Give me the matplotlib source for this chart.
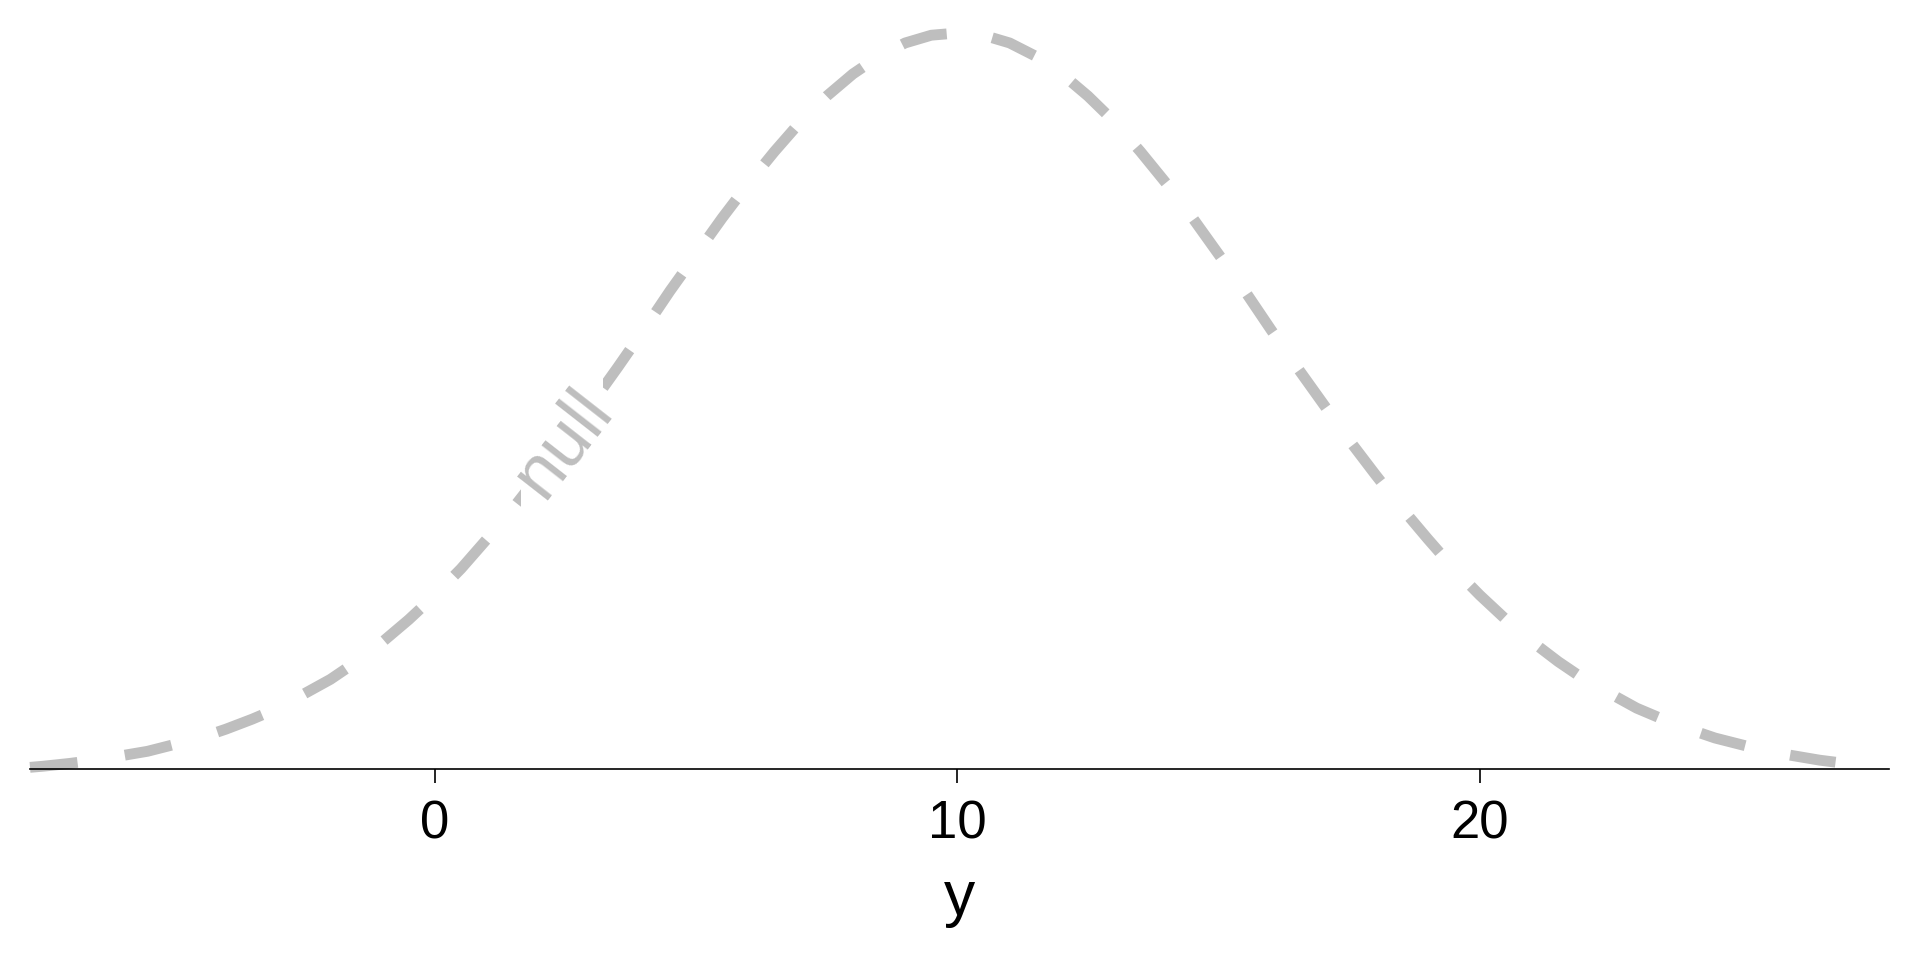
import numpy as np
import matplotlib
matplotlib.use('Agg')
import matplotlib.pyplot as plt
from matplotlib.patches import Rectangle, Polygon

plt.rcParams['font.family'] = ['Liberation Sans', 'DejaVu Sans']

# density curve (x = y-value, height = density)
curve_x = [-7.75, -7.5, -7, -6.5, -6, -5.5, -5, -4.5, -4, -3.5, -3, -2.5, -2,
           -1.5, -1, -0.5, 0, 0.5, 1, 1.5, 2, 2.5, 3, 3.5, 4, 4.5, 5, 5.5, 6,
           6.5, 7, 7.5, 8, 8.5, 9, 9.5, 10, 10.5, 11, 11.5, 12, 12.5, 13, 13.5,
           14, 14.5, 15, 15.5, 16, 16.5, 17, 17.5, 18, 18.5, 19, 19.5, 20,
           20.5, 21, 21.5, 22, 22.5, 23, 23.5, 24, 24.5, 25, 25.5, 26, 26.5, 27]
curve_density = [0.00015, 0.00025, 0.0005, 0.0008, 0.0012, 0.0016, 0.0022,
                 0.0028, 0.0036, 0.0045, 0.0055, 0.0068, 0.0081, 0.0097,
                 0.0115, 0.0135, 0.0157, 0.0181, 0.0208, 0.0236, 0.0266,
                 0.0297, 0.0330, 0.0363, 0.0397, 0.0432, 0.0465, 0.0498,
                 0.0529, 0.0558, 0.0585, 0.0608, 0.0628, 0.0644, 0.0656,
                 0.0663, 0.0665, 0.0663, 0.0656, 0.0644, 0.0628, 0.0608,
                 0.0585, 0.0558, 0.0529, 0.0498, 0.0465, 0.0432, 0.0397,
                 0.0363, 0.0330, 0.0297, 0.0266, 0.0236, 0.0208, 0.0181,
                 0.0157, 0.0135, 0.0115, 0.0097, 0.0081, 0.0068, 0.0055,
                 0.0045, 0.0036, 0.0028, 0.0022, 0.0016, 0.0012, 0.0008,
                 0.0005]
curve_label = 'null'
label_at = 2.45
x_ticks = [0, 10, 20]
x_title = 'y'

grey = '#BEBEBE'
lw = 7.8
gap_from, gap_to = 1.65, 3.22   # where the line breaks for the label

fig = plt.figure(figsize=(19.2, 9.6), dpi=100)
ax = fig.add_axes([30 / 1920, 191 / 960, 1859 / 1920, 769 / 960])
ax.set_xlim(-7.75, 27.83)
ax.set_ylim(0, 0.0665 * 769 / 736)

# dash lengths are given in pixels, matplotlib wants multiples of lw
unit_px = lw * fig.dpi / 72


def dash_style(dash_px, offset_px=0.0):
    d = dash_px / unit_px
    return (offset_px / unit_px, (d, d))


# part before the label
line1, = ax.plot(curve_x, curve_density, color=grey, lw=lw,
                 linestyle=dash_style(47.8), dash_capstyle='butt')
line1.set_clip_path(Rectangle((-20, -1), gap_from + 20, 2,
                              transform=ax.transData))

# part after the label: the dash pattern starts again at the break
dash2 = 46.0
pts = ax.transData.transform(np.column_stack([curve_x, curve_density]))
cum = np.concatenate([[0], np.cumsum(np.hypot(*np.diff(pts, axis=0).T))])
start_len = np.interp(gap_to, curve_x, cum)
offset = 2 * dash2 - start_len % (2 * dash2)
line2, = ax.plot(curve_x, curve_density, color=grey, lw=lw,
                 linestyle=dash_style(dash2, offset), dash_capstyle='butt')
line2.set_clip_path(Polygon([(gap_to, -1), (40, -1), (40, 1), (gap_to, 1)],
                            transform=ax.transData))

label_y = np.interp(label_at, curve_x, curve_density)
ax.annotate(curve_label, xy=(label_at, label_y), xytext=(10.8, -8.4),
            textcoords='offset points', ha='center', va='baseline',
            rotation=52, rotation_mode='anchor', fontsize=53, color=grey)

for side in ['left', 'top', 'right']:
    ax.spines[side].set_visible(False)
ax.spines['bottom'].set_linewidth(1.2)
ax.spines['bottom'].set_color('black')
ax.set_yticks([])
ax.set_xticks(x_ticks)
ax.tick_params(axis='x', length=10, width=1.2, pad=12, labelsize=38,
               colors='black')
ax.set_xlabel(x_title, fontsize=45, labelpad=14)

fig.savefig('out.png', dpi=100, facecolor='white')
